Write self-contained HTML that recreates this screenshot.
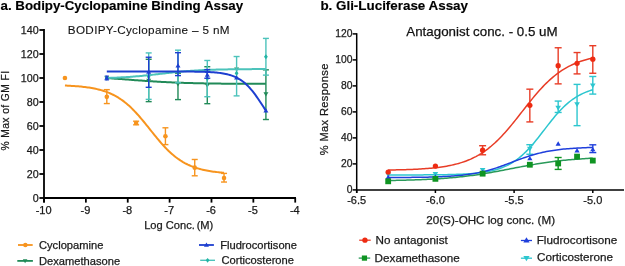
<!DOCTYPE html>
<html><head><meta charset="utf-8"><style>
html,body{margin:0;padding:0;background:#fff;overflow:hidden;}
svg{display:block;will-change:transform;}
text{font-family:"Liberation Sans", sans-serif;}
</style></head><body>
<svg width="625" height="266" viewBox="0 0 625 266">
<rect width="625" height="266" fill="#fff"/>
<text x="0.5" y="9.5" font-size="13.3" font-weight="bold" text-anchor="start" fill="#000" stroke="#000" stroke-width="0.15" >a. Bodipy-Cyclopamine Binding Assay</text>
<text x="67.8" y="33.6" font-size="11.7" font-weight="normal" text-anchor="start" fill="#111" stroke="#111" letter-spacing="0.34" stroke-width="0.1">BODIPY-Cyclopamine – 5 nM</text>
<line x1="148.68" y1="59.28" x2="148.68" y2="101.64" stroke="#218a58" stroke-width="1.4"/>
<line x1="145.68" y1="59.28" x2="151.68" y2="59.28" stroke="#218a58" stroke-width="1.4"/>
<line x1="145.68" y1="101.64" x2="151.68" y2="101.64" stroke="#218a58" stroke-width="1.4"/>
<line x1="177.98" y1="73.20" x2="177.98" y2="99.60" stroke="#218a58" stroke-width="1.4"/>
<line x1="174.98" y1="73.20" x2="180.98" y2="73.20" stroke="#218a58" stroke-width="1.4"/>
<line x1="174.98" y1="99.60" x2="180.98" y2="99.60" stroke="#218a58" stroke-width="1.4"/>
<line x1="207.29" y1="66.72" x2="207.29" y2="103.68" stroke="#218a58" stroke-width="1.4"/>
<line x1="204.29" y1="66.72" x2="210.29" y2="66.72" stroke="#218a58" stroke-width="1.4"/>
<line x1="204.29" y1="103.68" x2="210.29" y2="103.68" stroke="#218a58" stroke-width="1.4"/>
<line x1="265.91" y1="69.84" x2="265.91" y2="119.52" stroke="#218a58" stroke-width="1.4"/>
<line x1="262.91" y1="69.84" x2="268.91" y2="69.84" stroke="#218a58" stroke-width="1.4"/>
<line x1="262.91" y1="119.52" x2="268.91" y2="119.52" stroke="#218a58" stroke-width="1.4"/>
<path d="M106.80,78.07 L108.14,78.16 L109.48,78.25 L110.82,78.35 L112.15,78.44 L113.49,78.53 L114.83,78.63 L116.16,78.73 L117.50,78.82 L118.84,78.92 L120.18,79.02 L121.51,79.12 L122.85,79.22 L124.19,79.32 L125.52,79.42 L126.86,79.52 L128.20,79.62 L129.53,79.72 L130.87,79.82 L132.21,79.93 L133.55,80.03 L134.88,80.13 L136.22,80.22 L137.56,80.32 L138.89,80.42 L140.23,80.52 L141.57,80.61 L142.90,80.71 L144.24,80.80 L145.58,80.90 L146.92,80.99 L148.25,81.08 L149.59,81.17 L150.93,81.25 L152.26,81.34 L153.60,81.42 L154.94,81.51 L156.27,81.59 L157.61,81.67 L158.95,81.74 L160.29,81.82 L161.62,81.89 L162.96,81.96 L164.30,82.04 L165.63,82.10 L166.97,82.17 L168.31,82.23 L169.65,82.30 L170.98,82.36 L172.32,82.42 L173.66,82.48 L174.99,82.53 L176.33,82.59 L177.67,82.64 L179.00,82.69 L180.34,82.74 L181.68,82.79 L183.02,82.83 L184.35,82.88 L185.69,82.92 L187.03,82.96 L188.36,83.00 L189.70,83.04 L191.04,83.08 L192.37,83.11 L193.71,83.15 L195.05,83.18 L196.39,83.21 L197.72,83.24 L199.06,83.27 L200.40,83.30 L201.73,83.33 L203.07,83.35 L204.41,83.38 L205.74,83.40 L207.08,83.43 L208.42,83.45 L209.76,83.47 L211.09,83.49 L212.43,83.51 L213.77,83.53 L215.10,83.55 L216.44,83.56 L217.78,83.58 L219.12,83.60 L220.45,83.61 L221.79,83.63 L223.13,83.64 L224.46,83.65 L225.80,83.67 L227.14,83.68 L228.47,83.69 L229.81,83.70 L231.15,83.71 L232.49,83.72 L233.82,83.73 L235.16,83.74 L236.50,83.75 L237.83,83.76 L239.17,83.77 L240.51,83.78 L241.84,83.78 L243.18,83.79 L244.52,83.80 L245.86,83.80 L247.19,83.81 L248.53,83.82 L249.87,83.82 L251.20,83.83 L252.54,83.83 L253.88,83.84 L255.21,83.84 L256.55,83.85 L257.89,83.85 L259.23,83.86 L260.56,83.86 L261.90,83.86 L263.24,83.87 L264.57,83.87 L265.91,83.87" fill="none" stroke="#218a58" stroke-width="2.0" stroke-linejoin="round" stroke-linecap="butt"/>
<polygon points="106.80,80.55 104.30,76.30 109.30,76.30" fill="#218a58"/>
<polygon points="148.68,82.95 146.18,78.70 151.18,78.70" fill="#218a58"/>
<polygon points="177.98,86.55 175.48,82.30 180.48,82.30" fill="#218a58"/>
<polygon points="207.29,87.75 204.79,83.50 209.79,83.50" fill="#218a58"/>
<polygon points="236.60,71.79 234.10,67.54 239.10,67.54" fill="#218a58"/>
<polygon points="265.91,96.39 263.41,92.14 268.41,92.14" fill="#218a58"/>
<line x1="148.68" y1="52.92" x2="148.68" y2="99.36" stroke="#4cc3bb" stroke-width="1.4"/>
<line x1="145.68" y1="52.92" x2="151.68" y2="52.92" stroke="#4cc3bb" stroke-width="1.4"/>
<line x1="145.68" y1="99.36" x2="151.68" y2="99.36" stroke="#4cc3bb" stroke-width="1.4"/>
<line x1="177.98" y1="50.16" x2="177.98" y2="82.80" stroke="#4cc3bb" stroke-width="1.4"/>
<line x1="174.98" y1="50.16" x2="180.98" y2="50.16" stroke="#4cc3bb" stroke-width="1.4"/>
<line x1="174.98" y1="82.80" x2="180.98" y2="82.80" stroke="#4cc3bb" stroke-width="1.4"/>
<line x1="207.29" y1="60.48" x2="207.29" y2="96.72" stroke="#4cc3bb" stroke-width="1.4"/>
<line x1="204.29" y1="60.48" x2="210.29" y2="60.48" stroke="#4cc3bb" stroke-width="1.4"/>
<line x1="204.29" y1="96.72" x2="210.29" y2="96.72" stroke="#4cc3bb" stroke-width="1.4"/>
<line x1="236.60" y1="56.52" x2="236.60" y2="95.88" stroke="#4cc3bb" stroke-width="1.4"/>
<line x1="233.60" y1="56.52" x2="239.60" y2="56.52" stroke="#4cc3bb" stroke-width="1.4"/>
<line x1="233.60" y1="95.88" x2="239.60" y2="95.88" stroke="#4cc3bb" stroke-width="1.4"/>
<line x1="265.91" y1="38.40" x2="265.91" y2="75.12" stroke="#4cc3bb" stroke-width="1.4"/>
<line x1="262.91" y1="38.40" x2="268.91" y2="38.40" stroke="#4cc3bb" stroke-width="1.4"/>
<line x1="262.91" y1="75.12" x2="268.91" y2="75.12" stroke="#4cc3bb" stroke-width="1.4"/>
<path d="M106.80,77.99 L108.14,77.95 L109.48,77.90 L110.82,77.85 L112.15,77.80 L113.49,77.75 L114.83,77.70 L116.16,77.64 L117.50,77.58 L118.84,77.51 L120.18,77.45 L121.51,77.37 L122.85,77.30 L124.19,77.22 L125.52,77.14 L126.86,77.06 L128.20,76.97 L129.53,76.88 L130.87,76.78 L132.21,76.68 L133.55,76.58 L134.88,76.47 L136.22,76.36 L137.56,76.25 L138.89,76.13 L140.23,76.01 L141.57,75.88 L142.90,75.75 L144.24,75.62 L145.58,75.48 L146.92,75.35 L148.25,75.21 L149.59,75.06 L150.93,74.92 L152.26,74.77 L153.60,74.62 L154.94,74.47 L156.27,74.31 L157.61,74.16 L158.95,74.01 L160.29,73.85 L161.62,73.70 L162.96,73.54 L164.30,73.39 L165.63,73.24 L166.97,73.08 L168.31,72.93 L169.65,72.79 L170.98,72.64 L172.32,72.50 L173.66,72.35 L174.99,72.22 L176.33,72.08 L177.67,71.95 L179.00,71.82 L180.34,71.69 L181.68,71.57 L183.02,71.45 L184.35,71.34 L185.69,71.23 L187.03,71.12 L188.36,71.01 L189.70,70.91 L191.04,70.82 L192.37,70.73 L193.71,70.64 L195.05,70.55 L196.39,70.47 L197.72,70.39 L199.06,70.32 L200.40,70.25 L201.73,70.18 L203.07,70.12 L204.41,70.05 L205.74,70.00 L207.08,69.94 L208.42,69.89 L209.76,69.84 L211.09,69.79 L212.43,69.75 L213.77,69.70 L215.10,69.66 L216.44,69.62 L217.78,69.59 L219.12,69.55 L220.45,69.52 L221.79,69.49 L223.13,69.46 L224.46,69.44 L225.80,69.41 L227.14,69.39 L228.47,69.36 L229.81,69.34 L231.15,69.32 L232.49,69.30 L233.82,69.28 L235.16,69.27 L236.50,69.25 L237.83,69.24 L239.17,69.22 L240.51,69.21 L241.84,69.20 L243.18,69.18 L244.52,69.17 L245.86,69.16 L247.19,69.15 L248.53,69.14 L249.87,69.14 L251.20,69.13 L252.54,69.12 L253.88,69.11 L255.21,69.11 L256.55,69.10 L257.89,69.09 L259.23,69.09 L260.56,69.08 L261.90,69.08 L263.24,69.07 L264.57,69.07 L265.91,69.07" fill="none" stroke="#4cc3bb" stroke-width="2.0" stroke-linejoin="round" stroke-linecap="butt"/>
<polygon points="106.80,75.50 108.73,78.00 106.80,80.50 104.88,78.00" fill="#22b5a5"/>
<polygon points="148.68,74.30 150.60,76.80 148.68,79.30 146.75,76.80" fill="#22b5a5"/>
<polygon points="177.98,69.50 179.91,72.00 177.98,74.50 176.06,72.00" fill="#22b5a5"/>
<polygon points="207.29,76.10 209.22,78.60 207.29,81.10 205.37,78.60" fill="#22b5a5"/>
<polygon points="236.60,70.70 238.53,73.20 236.60,75.70 234.68,73.20" fill="#22b5a5"/>
<polygon points="265.91,54.26 267.83,56.76 265.91,59.26 263.99,56.76" fill="#22b5a5"/>
<line x1="148.68" y1="57.24" x2="148.68" y2="87.30" stroke="#1d3fd0" stroke-width="1.4"/>
<line x1="145.68" y1="57.24" x2="151.68" y2="57.24" stroke="#1d3fd0" stroke-width="1.4"/>
<line x1="145.68" y1="87.30" x2="151.68" y2="87.30" stroke="#1d3fd0" stroke-width="1.4"/>
<line x1="177.98" y1="52.68" x2="177.98" y2="75.60" stroke="#1d3fd0" stroke-width="1.4"/>
<line x1="174.98" y1="52.68" x2="180.98" y2="52.68" stroke="#1d3fd0" stroke-width="1.4"/>
<line x1="174.98" y1="75.60" x2="180.98" y2="75.60" stroke="#1d3fd0" stroke-width="1.4"/>
<line x1="207.29" y1="69.60" x2="207.29" y2="78.24" stroke="#1d3fd0" stroke-width="1.4"/>
<line x1="204.29" y1="69.60" x2="210.29" y2="69.60" stroke="#1d3fd0" stroke-width="1.4"/>
<line x1="204.29" y1="78.24" x2="210.29" y2="78.24" stroke="#1d3fd0" stroke-width="1.4"/>
<path d="M106.80,71.46 L108.14,71.46 L109.48,71.46 L110.82,71.46 L112.15,71.46 L113.49,71.46 L114.83,71.46 L116.16,71.46 L117.50,71.46 L118.84,71.46 L120.18,71.46 L121.51,71.46 L122.85,71.46 L124.19,71.46 L125.52,71.46 L126.86,71.46 L128.20,71.46 L129.53,71.46 L130.87,71.46 L132.21,71.46 L133.55,71.46 L134.88,71.46 L136.22,71.46 L137.56,71.46 L138.89,71.46 L140.23,71.46 L141.57,71.46 L142.90,71.46 L144.24,71.46 L145.58,71.46 L146.92,71.46 L148.25,71.46 L149.59,71.46 L150.93,71.46 L152.26,71.46 L153.60,71.46 L154.94,71.46 L156.27,71.46 L157.61,71.46 L158.95,71.46 L160.29,71.46 L161.62,71.46 L162.96,71.47 L164.30,71.47 L165.63,71.47 L166.97,71.47 L168.31,71.47 L169.65,71.47 L170.98,71.48 L172.32,71.48 L173.66,71.48 L174.99,71.48 L176.33,71.49 L177.67,71.49 L179.00,71.50 L180.34,71.50 L181.68,71.51 L183.02,71.52 L184.35,71.52 L185.69,71.53 L187.03,71.54 L188.36,71.55 L189.70,71.56 L191.04,71.58 L192.37,71.59 L193.71,71.61 L195.05,71.63 L196.39,71.65 L197.72,71.67 L199.06,71.70 L200.40,71.73 L201.73,71.77 L203.07,71.80 L204.41,71.85 L205.74,71.90 L207.08,71.95 L208.42,72.01 L209.76,72.08 L211.09,72.16 L212.43,72.25 L213.77,72.35 L215.10,72.46 L216.44,72.58 L217.78,72.72 L219.12,72.87 L220.45,73.04 L221.79,73.24 L223.13,73.46 L224.46,73.70 L225.80,73.97 L227.14,74.27 L228.47,74.61 L229.81,74.98 L231.15,75.40 L232.49,75.86 L233.82,76.37 L235.16,76.94 L236.50,77.56 L237.83,78.25 L239.17,79.01 L240.51,79.84 L241.84,80.75 L243.18,81.75 L244.52,82.82 L245.86,83.99 L247.19,85.25 L248.53,86.60 L249.87,88.04 L251.20,89.58 L252.54,91.20 L253.88,92.91 L255.21,94.70 L256.55,96.55 L257.89,98.47 L259.23,100.45 L260.56,102.46 L261.90,104.49 L263.24,106.54 L264.57,108.59 L265.91,110.62" fill="none" stroke="#1d3fd0" stroke-width="2.0" stroke-linejoin="round" stroke-linecap="butt"/>
<polygon points="106.80,75.45 104.30,79.70 109.30,79.70" fill="#1d3fd0"/>
<polygon points="148.68,69.45 146.18,73.70 151.18,73.70" fill="#1d3fd0"/>
<polygon points="177.98,63.33 175.48,67.58 180.48,67.58" fill="#1d3fd0"/>
<polygon points="207.29,72.57 204.79,76.82 209.79,76.82" fill="#1d3fd0"/>
<polygon points="236.60,75.21 234.10,79.46 239.10,79.46" fill="#1d3fd0"/>
<polygon points="265.91,108.33 263.41,112.58 268.41,112.58" fill="#1d3fd0"/>
<polygon points="104.50,75.60 109.10,75.60 104.50,80.40 109.10,80.40" fill="#1d3fd0"/>
<line x1="106.80" y1="89.64" x2="106.80" y2="103.56" stroke="#f7941e" stroke-width="1.4"/>
<line x1="103.80" y1="89.64" x2="109.80" y2="89.64" stroke="#f7941e" stroke-width="1.4"/>
<line x1="103.80" y1="103.56" x2="109.80" y2="103.56" stroke="#f7941e" stroke-width="1.4"/>
<line x1="136.11" y1="121.20" x2="136.11" y2="124.80" stroke="#f7941e" stroke-width="1.4"/>
<line x1="133.11" y1="121.20" x2="139.11" y2="121.20" stroke="#f7941e" stroke-width="1.4"/>
<line x1="133.11" y1="124.80" x2="139.11" y2="124.80" stroke="#f7941e" stroke-width="1.4"/>
<line x1="165.42" y1="127.80" x2="165.42" y2="144.60" stroke="#f7941e" stroke-width="1.4"/>
<line x1="162.42" y1="127.80" x2="168.42" y2="127.80" stroke="#f7941e" stroke-width="1.4"/>
<line x1="162.42" y1="144.60" x2="168.42" y2="144.60" stroke="#f7941e" stroke-width="1.4"/>
<line x1="194.73" y1="159.48" x2="194.73" y2="175.80" stroke="#f7941e" stroke-width="1.4"/>
<line x1="191.73" y1="159.48" x2="197.73" y2="159.48" stroke="#f7941e" stroke-width="1.4"/>
<line x1="191.73" y1="175.80" x2="197.73" y2="175.80" stroke="#f7941e" stroke-width="1.4"/>
<line x1="224.04" y1="173.40" x2="224.04" y2="182.04" stroke="#f7941e" stroke-width="1.4"/>
<line x1="221.04" y1="173.40" x2="227.04" y2="173.40" stroke="#f7941e" stroke-width="1.4"/>
<line x1="221.04" y1="182.04" x2="227.04" y2="182.04" stroke="#f7941e" stroke-width="1.4"/>
<path d="M64.94,85.55 L66.27,85.61 L67.61,85.67 L68.95,85.74 L70.28,85.81 L71.62,85.89 L72.96,85.97 L74.29,86.06 L75.63,86.15 L76.97,86.26 L78.31,86.37 L79.64,86.49 L80.98,86.61 L82.32,86.75 L83.65,86.90 L84.99,87.06 L86.33,87.23 L87.66,87.41 L89.00,87.61 L90.34,87.82 L91.68,88.04 L93.01,88.29 L94.35,88.55 L95.69,88.83 L97.02,89.12 L98.36,89.44 L99.70,89.79 L101.03,90.15 L102.37,90.54 L103.71,90.96 L105.05,91.40 L106.38,91.88 L107.72,92.38 L109.06,92.92 L110.39,93.49 L111.73,94.10 L113.07,94.74 L114.40,95.43 L115.74,96.15 L117.08,96.91 L118.42,97.72 L119.75,98.58 L121.09,99.47 L122.43,100.42 L123.76,101.41 L125.10,102.45 L126.44,103.54 L127.78,104.68 L129.11,105.87 L130.45,107.10 L131.79,108.38 L133.12,109.71 L134.46,111.08 L135.80,112.50 L137.13,113.95 L138.47,115.45 L139.81,116.98 L141.15,118.54 L142.48,120.14 L143.82,121.75 L145.16,123.39 L146.49,125.05 L147.83,126.72 L149.17,128.39 L150.50,130.07 L151.84,131.75 L153.18,133.42 L154.52,135.08 L155.85,136.72 L157.19,138.35 L158.53,139.95 L159.86,141.52 L161.20,143.06 L162.54,144.56 L163.87,146.03 L165.21,147.46 L166.55,148.84 L167.89,150.18 L169.22,151.48 L170.56,152.72 L171.90,153.92 L173.23,155.07 L174.57,156.17 L175.91,157.23 L177.25,158.23 L178.58,159.19 L179.92,160.10 L181.26,160.97 L182.59,161.79 L183.93,162.56 L185.27,163.30 L186.60,163.99 L187.94,164.65 L189.28,165.26 L190.62,165.85 L191.95,166.39 L193.29,166.91 L194.63,167.39 L195.96,167.84 L197.30,168.26 L198.64,168.66 L199.97,169.03 L201.31,169.38 L202.65,169.71 L203.99,170.01 L205.32,170.29 L206.66,170.56 L208.00,170.81 L209.33,171.04 L210.67,171.25 L212.01,171.45 L213.34,171.64 L214.68,171.81 L216.02,171.97 L217.36,172.12 L218.69,172.26 L220.03,172.39 L221.37,172.52 L222.70,172.63 L224.04,172.73" fill="none" stroke="#f7941e" stroke-width="2.0" stroke-linejoin="round" stroke-linecap="butt"/>
<circle cx="64.94" cy="78.00" r="2.30" fill="#f7941e"/>
<circle cx="106.80" cy="96.84" r="2.30" fill="#f7941e"/>
<circle cx="136.11" cy="123.00" r="2.30" fill="#f7941e"/>
<circle cx="165.42" cy="136.20" r="2.30" fill="#f7941e"/>
<circle cx="194.73" cy="167.64" r="2.30" fill="#f7941e"/>
<circle cx="224.04" cy="178.08" r="2.30" fill="#f7941e"/>
<g stroke="#000" stroke-width="1.8" fill="none">
<line x1="44" y1="29.1" x2="44" y2="202.6"/>
<line x1="43.1" y1="198" x2="296" y2="198"/>
<line x1="39.4" y1="198.00" x2="44" y2="198.00"/>
<line x1="39.4" y1="174.00" x2="44" y2="174.00"/>
<line x1="39.4" y1="150.00" x2="44" y2="150.00"/>
<line x1="39.4" y1="126.00" x2="44" y2="126.00"/>
<line x1="39.4" y1="102.00" x2="44" y2="102.00"/>
<line x1="39.4" y1="78.00" x2="44" y2="78.00"/>
<line x1="39.4" y1="54.00" x2="44" y2="54.00"/>
<line x1="39.4" y1="30.00" x2="44" y2="30.00"/>
<line x1="44.00" y1="198" x2="44.00" y2="202.6"/>
<line x1="85.87" y1="198" x2="85.87" y2="202.6"/>
<line x1="127.74" y1="198" x2="127.74" y2="202.6"/>
<line x1="169.61" y1="198" x2="169.61" y2="202.6"/>
<line x1="211.48" y1="198" x2="211.48" y2="202.6"/>
<line x1="253.35" y1="198" x2="253.35" y2="202.6"/>
<line x1="295.22" y1="198" x2="295.22" y2="202.6"/>
</g>
<text x="38.7" y="201.75" font-size="10.7" font-weight="normal" text-anchor="end" fill="#1a1a1a" stroke="#1a1a1a" stroke-width="0.25" >0</text>
<text x="38.7" y="177.75" font-size="10.7" font-weight="normal" text-anchor="end" fill="#1a1a1a" stroke="#1a1a1a" stroke-width="0.25" >20</text>
<text x="38.7" y="153.75" font-size="10.7" font-weight="normal" text-anchor="end" fill="#1a1a1a" stroke="#1a1a1a" stroke-width="0.25" >40</text>
<text x="38.7" y="129.75" font-size="10.7" font-weight="normal" text-anchor="end" fill="#1a1a1a" stroke="#1a1a1a" stroke-width="0.25" >60</text>
<text x="38.7" y="105.75" font-size="10.7" font-weight="normal" text-anchor="end" fill="#1a1a1a" stroke="#1a1a1a" stroke-width="0.25" >80</text>
<text x="38.7" y="81.75" font-size="10.7" font-weight="normal" text-anchor="end" fill="#1a1a1a" stroke="#1a1a1a" stroke-width="0.25" >100</text>
<text x="38.7" y="57.75" font-size="10.7" font-weight="normal" text-anchor="end" fill="#1a1a1a" stroke="#1a1a1a" stroke-width="0.25" >120</text>
<text x="38.7" y="33.75" font-size="10.7" font-weight="normal" text-anchor="end" fill="#1a1a1a" stroke="#1a1a1a" stroke-width="0.25" >140</text>
<text x="43.60" y="213.6" font-size="11" font-weight="normal" text-anchor="middle" fill="#1a1a1a" stroke="#1a1a1a" stroke-width="0.25" >-10</text>
<text x="85.47" y="213.6" font-size="11" font-weight="normal" text-anchor="middle" fill="#1a1a1a" stroke="#1a1a1a" stroke-width="0.25" >-9</text>
<text x="127.34" y="213.6" font-size="11" font-weight="normal" text-anchor="middle" fill="#1a1a1a" stroke="#1a1a1a" stroke-width="0.25" >-8</text>
<text x="169.21" y="213.6" font-size="11" font-weight="normal" text-anchor="middle" fill="#1a1a1a" stroke="#1a1a1a" stroke-width="0.25" >-7</text>
<text x="211.08" y="213.6" font-size="11" font-weight="normal" text-anchor="middle" fill="#1a1a1a" stroke="#1a1a1a" stroke-width="0.25" >-6</text>
<text x="252.95" y="213.6" font-size="11" font-weight="normal" text-anchor="middle" fill="#1a1a1a" stroke="#1a1a1a" stroke-width="0.25" >-5</text>
<text x="294.82" y="213.6" font-size="11" font-weight="normal" text-anchor="middle" fill="#1a1a1a" stroke="#1a1a1a" stroke-width="0.25" >-4</text>
<text x="144.2" y="228.6" font-size="11.1" font-weight="normal" text-anchor="start" fill="#1a1a1a" stroke="#1a1a1a" stroke-width="0.25" >Log Conc. <tspan dx="-1.2">(M)</tspan></text>
<text transform="translate(8.5,110.6) rotate(-90)" font-size="10.3" letter-spacing="0.4" text-anchor="middle" fill="#1a1a1a" stroke="#1a1a1a" stroke-width="0.25">% Max of GM FI</text>
<line x1="18.0" y1="245.0" x2="32.7" y2="245.0" stroke="#f7941e" stroke-width="1.8"/>
<circle cx="25.35" cy="245.00" r="2.25" fill="#f7941e"/>
<text x="39.0" y="248.7" font-size="11.15" font-weight="normal" text-anchor="start" fill="#1a1a1a" stroke="#1a1a1a" stroke-width="0.25" >Cyclopamine</text>
<line x1="17.3" y1="260.9" x2="32.9" y2="260.9" stroke="#218a58" stroke-width="1.8"/>
<polygon points="25.10,263.19 22.85,259.37 27.35,259.37" fill="#218a58"/>
<text x="39.0" y="264.8" font-size="11.15" font-weight="normal" text-anchor="start" fill="#1a1a1a" stroke="#1a1a1a" stroke-width="0.25" >Dexamethasone</text>
<line x1="199.0" y1="245.0" x2="213.9" y2="245.0" stroke="#1d3fd0" stroke-width="1.8"/>
<polygon points="206.45,242.45 203.95,246.70 208.95,246.70" fill="#1d3fd0"/>
<text x="220.2" y="248.5" font-size="11.15" font-weight="normal" text-anchor="start" fill="#1a1a1a" stroke="#1a1a1a" stroke-width="0.25" >Fludrocortisone</text>
<line x1="200.2" y1="260.3" x2="215.0" y2="260.3" stroke="#4cc3bb" stroke-width="1.4"/>
<polygon points="207.60,257.90 209.45,260.30 207.60,262.70 205.75,260.30" fill="#22b5a5"/>
<text x="221.5" y="264.1" font-size="11.15" font-weight="normal" text-anchor="start" fill="#1a1a1a" stroke="#1a1a1a" stroke-width="0.25" >Corticosterone</text>
<text x="320.4" y="9.5" font-size="13.4" font-weight="bold" text-anchor="start" fill="#000" stroke="#000" stroke-width="0.15" >b. Gli-Luciferase Assay</text>
<text x="406.3" y="36.4" font-size="13.35" font-weight="normal" text-anchor="start" fill="#111" stroke="#111" stroke-width="0.25" >Antagonist conc. - 0.5 uM</text>
<line x1="529.84" y1="144.69" x2="529.84" y2="154.26" stroke="#2cc6cf" stroke-width="1.4"/>
<line x1="526.34" y1="144.69" x2="533.34" y2="144.69" stroke="#2cc6cf" stroke-width="1.4"/>
<line x1="526.34" y1="154.26" x2="533.34" y2="154.26" stroke="#2cc6cf" stroke-width="1.4"/>
<line x1="558.17" y1="101.08" x2="558.17" y2="112.47" stroke="#2cc6cf" stroke-width="1.4"/>
<line x1="554.67" y1="101.08" x2="561.67" y2="101.08" stroke="#2cc6cf" stroke-width="1.4"/>
<line x1="554.67" y1="112.47" x2="561.67" y2="112.47" stroke="#2cc6cf" stroke-width="1.4"/>
<line x1="577.06" y1="84.39" x2="577.06" y2="125.66" stroke="#2cc6cf" stroke-width="1.4"/>
<line x1="573.56" y1="84.39" x2="580.56" y2="84.39" stroke="#2cc6cf" stroke-width="1.4"/>
<line x1="573.56" y1="125.66" x2="580.56" y2="125.66" stroke="#2cc6cf" stroke-width="1.4"/>
<line x1="592.80" y1="76.49" x2="592.80" y2="94.09" stroke="#2cc6cf" stroke-width="1.4"/>
<line x1="589.30" y1="76.49" x2="596.30" y2="76.49" stroke="#2cc6cf" stroke-width="1.4"/>
<line x1="589.30" y1="94.09" x2="596.30" y2="94.09" stroke="#2cc6cf" stroke-width="1.4"/>
<path d="M388.18,174.95 L389.90,174.94 L391.62,174.94 L393.34,174.94 L395.06,174.94 L396.78,174.94 L398.50,174.94 L400.22,174.93 L401.94,174.93 L403.66,174.93 L405.37,174.93 L407.09,174.92 L408.81,174.92 L410.53,174.92 L412.25,174.91 L413.97,174.91 L415.69,174.90 L417.41,174.90 L419.13,174.89 L420.85,174.88 L422.57,174.88 L424.29,174.87 L426.01,174.86 L427.73,174.85 L429.45,174.84 L431.17,174.82 L432.89,174.81 L434.61,174.79 L436.33,174.78 L438.05,174.76 L439.76,174.74 L441.48,174.71 L443.20,174.69 L444.92,174.66 L446.64,174.63 L448.36,174.60 L450.08,174.56 L451.80,174.52 L453.52,174.47 L455.24,174.42 L456.96,174.37 L458.68,174.31 L460.40,174.24 L462.12,174.17 L463.84,174.09 L465.56,174.00 L467.28,173.90 L469.00,173.79 L470.72,173.67 L472.44,173.54 L474.15,173.39 L475.87,173.23 L477.59,173.06 L479.31,172.86 L481.03,172.65 L482.75,172.42 L484.47,172.16 L486.19,171.88 L487.91,171.57 L489.63,171.24 L491.35,170.87 L493.07,170.46 L494.79,170.02 L496.51,169.54 L498.23,169.01 L499.95,168.44 L501.67,167.81 L503.39,167.13 L505.11,166.40 L506.83,165.60 L508.54,164.74 L510.26,163.80 L511.98,162.80 L513.70,161.72 L515.42,160.56 L517.14,159.32 L518.86,158.00 L520.58,156.60 L522.30,155.11 L524.02,153.53 L525.74,151.87 L527.46,150.13 L529.18,148.31 L530.90,146.41 L532.62,144.44 L534.34,142.41 L536.06,140.32 L537.78,138.19 L539.50,136.01 L541.22,133.80 L542.93,131.58 L544.65,129.34 L546.37,127.11 L548.09,124.89 L549.81,122.69 L551.53,120.53 L553.25,118.41 L554.97,116.34 L556.69,114.33 L558.41,112.39 L560.13,110.53 L561.85,108.73 L563.57,107.02 L565.29,105.40 L567.01,103.85 L568.73,102.40 L570.45,101.02 L572.17,99.73 L573.89,98.53 L575.61,97.40 L577.32,96.35 L579.04,95.37 L580.76,94.47 L582.48,93.63 L584.20,92.86 L585.92,92.14 L587.64,91.49 L589.36,90.88 L591.08,90.33 L592.80,89.82" fill="none" stroke="#2cc6cf" stroke-width="1.5" stroke-linejoin="round" stroke-linecap="butt"/>
<polygon points="388.18,177.17 385.38,172.41 390.98,172.41" fill="#2cc6cf"/>
<polygon points="435.40,176.79 432.60,172.03 438.20,172.03" fill="#2cc6cf"/>
<polygon points="482.62,172.78 479.82,168.02 485.42,168.02" fill="#2cc6cf"/>
<polygon points="529.84,151.55 527.04,146.79 532.64,146.79" fill="#2cc6cf"/>
<polygon points="558.17,110.40 555.37,105.64 560.97,105.64" fill="#2cc6cf"/>
<polygon points="577.06,106.91 574.26,102.15 579.86,102.15" fill="#2cc6cf"/>
<polygon points="592.80,88.15 590.00,83.39 595.60,83.39" fill="#2cc6cf"/>
<line x1="592.80" y1="144.82" x2="592.80" y2="152.58" stroke="#1f3fdc" stroke-width="1.4"/>
<line x1="589.30" y1="144.82" x2="596.30" y2="144.82" stroke="#1f3fdc" stroke-width="1.4"/>
<line x1="589.30" y1="152.58" x2="596.30" y2="152.58" stroke="#1f3fdc" stroke-width="1.4"/>
<path d="M388.18,177.52 L389.90,177.52 L391.62,177.51 L393.34,177.51 L395.06,177.50 L396.78,177.49 L398.50,177.48 L400.22,177.47 L401.94,177.46 L403.66,177.45 L405.37,177.44 L407.09,177.42 L408.81,177.41 L410.53,177.39 L412.25,177.37 L413.97,177.36 L415.69,177.33 L417.41,177.31 L419.13,177.29 L420.85,177.26 L422.57,177.23 L424.29,177.20 L426.01,177.17 L427.73,177.13 L429.45,177.09 L431.17,177.04 L432.89,177.00 L434.61,176.94 L436.33,176.89 L438.05,176.83 L439.76,176.76 L441.48,176.69 L443.20,176.61 L444.92,176.53 L446.64,176.44 L448.36,176.34 L450.08,176.23 L451.80,176.11 L453.52,175.99 L455.24,175.85 L456.96,175.71 L458.68,175.55 L460.40,175.38 L462.12,175.20 L463.84,175.01 L465.56,174.80 L467.28,174.57 L469.00,174.33 L470.72,174.08 L472.44,173.80 L474.15,173.51 L475.87,173.20 L477.59,172.87 L479.31,172.52 L481.03,172.14 L482.75,171.75 L484.47,171.34 L486.19,170.90 L487.91,170.44 L489.63,169.96 L491.35,169.46 L493.07,168.94 L494.79,168.40 L496.51,167.84 L498.23,167.27 L499.95,166.67 L501.67,166.07 L503.39,165.45 L505.11,164.81 L506.83,164.17 L508.54,163.53 L510.26,162.87 L511.98,162.22 L513.70,161.56 L515.42,160.91 L517.14,160.27 L518.86,159.63 L520.58,158.99 L522.30,158.38 L524.02,157.77 L525.74,157.18 L527.46,156.60 L529.18,156.05 L530.90,155.51 L532.62,154.99 L534.34,154.49 L536.06,154.02 L537.78,153.56 L539.50,153.13 L541.22,152.71 L542.93,152.32 L544.65,151.95 L546.37,151.60 L548.09,151.27 L549.81,150.96 L551.53,150.67 L553.25,150.40 L554.97,150.15 L556.69,149.91 L558.41,149.68 L560.13,149.48 L561.85,149.28 L563.57,149.10 L565.29,148.94 L567.01,148.78 L568.73,148.64 L570.45,148.50 L572.17,148.38 L573.89,148.26 L575.61,148.16 L577.32,148.06 L579.04,147.97 L580.76,147.89 L582.48,147.81 L584.20,147.74 L585.92,147.67 L587.64,147.61 L589.36,147.56 L591.08,147.50 L592.80,147.46" fill="none" stroke="#1f3fdc" stroke-width="1.5" stroke-linejoin="round" stroke-linecap="butt"/>
<polygon points="388.18,174.64 385.58,179.06 390.78,179.06" fill="#1f3fdc"/>
<polygon points="435.40,174.25 432.80,178.67 438.00,178.67" fill="#1f3fdc"/>
<polygon points="482.62,169.86 480.02,174.28 485.22,174.28" fill="#1f3fdc"/>
<polygon points="529.84,155.88 527.24,160.30 532.44,160.30" fill="#1f3fdc"/>
<polygon points="558.17,141.26 555.57,145.68 560.77,145.68" fill="#1f3fdc"/>
<polygon points="577.06,147.99 574.46,152.41 579.66,152.41" fill="#1f3fdc"/>
<polygon points="592.80,146.95 590.20,151.37 595.40,151.37" fill="#1f3fdc"/>
<line x1="558.17" y1="157.50" x2="558.17" y2="169.40" stroke="#0f9422" stroke-width="1.4"/>
<line x1="554.67" y1="157.50" x2="561.67" y2="157.50" stroke="#0f9422" stroke-width="1.4"/>
<line x1="554.67" y1="169.40" x2="561.67" y2="169.40" stroke="#0f9422" stroke-width="1.4"/>
<path d="M388.18,180.51 L389.90,180.48 L391.62,180.45 L393.34,180.42 L395.06,180.39 L396.78,180.36 L398.50,180.32 L400.22,180.28 L401.94,180.25 L403.66,180.20 L405.37,180.16 L407.09,180.12 L408.81,180.07 L410.53,180.02 L412.25,179.97 L413.97,179.91 L415.69,179.85 L417.41,179.79 L419.13,179.73 L420.85,179.66 L422.57,179.59 L424.29,179.51 L426.01,179.43 L427.73,179.35 L429.45,179.27 L431.17,179.18 L432.89,179.08 L434.61,178.99 L436.33,178.88 L438.05,178.77 L439.76,178.66 L441.48,178.54 L443.20,178.42 L444.92,178.29 L446.64,178.16 L448.36,178.02 L450.08,177.87 L451.80,177.72 L453.52,177.56 L455.24,177.40 L456.96,177.23 L458.68,177.05 L460.40,176.87 L462.12,176.68 L463.84,176.48 L465.56,176.28 L467.28,176.07 L469.00,175.85 L470.72,175.63 L472.44,175.39 L474.15,175.15 L475.87,174.91 L477.59,174.66 L479.31,174.40 L481.03,174.13 L482.75,173.86 L484.47,173.58 L486.19,173.30 L487.91,173.01 L489.63,172.71 L491.35,172.41 L493.07,172.10 L494.79,171.79 L496.51,171.48 L498.23,171.16 L499.95,170.84 L501.67,170.51 L503.39,170.18 L505.11,169.85 L506.83,169.52 L508.54,169.19 L510.26,168.86 L511.98,168.52 L513.70,168.19 L515.42,167.86 L517.14,167.53 L518.86,167.20 L520.58,166.87 L522.30,166.54 L524.02,166.22 L525.74,165.90 L527.46,165.59 L529.18,165.28 L530.90,164.98 L532.62,164.68 L534.34,164.38 L536.06,164.09 L537.78,163.81 L539.50,163.53 L541.22,163.26 L542.93,163.00 L544.65,162.74 L546.37,162.49 L548.09,162.24 L549.81,162.01 L551.53,161.78 L553.25,161.55 L554.97,161.34 L556.69,161.13 L558.41,160.92 L560.13,160.73 L561.85,160.54 L563.57,160.36 L565.29,160.18 L567.01,160.01 L568.73,159.85 L570.45,159.69 L572.17,159.54 L573.89,159.40 L575.61,159.26 L577.32,159.13 L579.04,159.00 L580.76,158.88 L582.48,158.76 L584.20,158.65 L585.92,158.54 L587.64,158.44 L589.36,158.34 L591.08,158.25 L592.80,158.16" fill="none" stroke="#2a9a5a" stroke-width="1.5" stroke-linejoin="round" stroke-linecap="butt"/>
<rect x="385.28" y="178.41" width="5.80" height="5.80" fill="#0f9422"/>
<rect x="432.50" y="175.95" width="5.80" height="5.80" fill="#0f9422"/>
<rect x="479.72" y="170.77" width="5.80" height="5.80" fill="#0f9422"/>
<rect x="526.94" y="161.84" width="5.80" height="5.80" fill="#0f9422"/>
<rect x="555.27" y="160.55" width="5.80" height="5.80" fill="#0f9422"/>
<rect x="574.16" y="153.69" width="5.80" height="5.80" fill="#0f9422"/>
<rect x="589.90" y="157.70" width="5.80" height="5.80" fill="#0f9422"/>
<line x1="482.62" y1="145.72" x2="482.62" y2="154.78" stroke="#e83c26" stroke-width="1.4"/>
<line x1="479.12" y1="145.72" x2="486.12" y2="145.72" stroke="#e83c26" stroke-width="1.4"/>
<line x1="479.12" y1="154.78" x2="486.12" y2="154.78" stroke="#e83c26" stroke-width="1.4"/>
<line x1="529.84" y1="89.17" x2="529.84" y2="121.91" stroke="#e83c26" stroke-width="1.4"/>
<line x1="526.34" y1="89.17" x2="533.34" y2="89.17" stroke="#e83c26" stroke-width="1.4"/>
<line x1="526.34" y1="121.91" x2="533.34" y2="121.91" stroke="#e83c26" stroke-width="1.4"/>
<line x1="558.17" y1="47.77" x2="558.17" y2="83.87" stroke="#e83c26" stroke-width="1.4"/>
<line x1="554.67" y1="47.77" x2="561.67" y2="47.77" stroke="#e83c26" stroke-width="1.4"/>
<line x1="554.67" y1="83.87" x2="561.67" y2="83.87" stroke="#e83c26" stroke-width="1.4"/>
<line x1="577.06" y1="52.55" x2="577.06" y2="73.90" stroke="#e83c26" stroke-width="1.4"/>
<line x1="573.56" y1="52.55" x2="580.56" y2="52.55" stroke="#e83c26" stroke-width="1.4"/>
<line x1="573.56" y1="73.90" x2="580.56" y2="73.90" stroke="#e83c26" stroke-width="1.4"/>
<line x1="592.80" y1="45.70" x2="592.80" y2="73.26" stroke="#e83c26" stroke-width="1.4"/>
<line x1="589.30" y1="45.70" x2="596.30" y2="45.70" stroke="#e83c26" stroke-width="1.4"/>
<line x1="589.30" y1="73.26" x2="596.30" y2="73.26" stroke="#e83c26" stroke-width="1.4"/>
<path d="M388.18,170.01 L389.90,169.99 L391.62,169.96 L393.34,169.93 L395.06,169.90 L396.78,169.86 L398.50,169.82 L400.22,169.78 L401.94,169.74 L403.66,169.69 L405.37,169.64 L407.09,169.58 L408.81,169.52 L410.53,169.46 L412.25,169.39 L413.97,169.31 L415.69,169.23 L417.41,169.15 L419.13,169.05 L420.85,168.95 L422.57,168.85 L424.29,168.73 L426.01,168.61 L427.73,168.47 L429.45,168.33 L431.17,168.17 L432.89,168.01 L434.61,167.83 L436.33,167.64 L438.05,167.43 L439.76,167.21 L441.48,166.97 L443.20,166.71 L444.92,166.44 L446.64,166.15 L448.36,165.83 L450.08,165.49 L451.80,165.13 L453.52,164.74 L455.24,164.33 L456.96,163.88 L458.68,163.41 L460.40,162.90 L462.12,162.36 L463.84,161.79 L465.56,161.17 L467.28,160.51 L469.00,159.82 L470.72,159.08 L472.44,158.29 L474.15,157.45 L475.87,156.56 L477.59,155.62 L479.31,154.63 L481.03,153.58 L482.75,152.47 L484.47,151.30 L486.19,150.08 L487.91,148.79 L489.63,147.43 L491.35,146.02 L493.07,144.54 L494.79,143.00 L496.51,141.39 L498.23,139.72 L499.95,137.99 L501.67,136.21 L503.39,134.36 L505.11,132.46 L506.83,130.51 L508.54,128.51 L510.26,126.47 L511.98,124.39 L513.70,122.27 L515.42,120.13 L517.14,117.96 L518.86,115.77 L520.58,113.58 L522.30,111.37 L524.02,109.17 L525.74,106.97 L527.46,104.79 L529.18,102.63 L530.90,100.49 L532.62,98.38 L534.34,96.31 L536.06,94.27 L537.78,92.28 L539.50,90.34 L541.22,88.45 L542.93,86.62 L544.65,84.84 L546.37,83.13 L548.09,81.47 L549.81,79.88 L551.53,78.35 L553.25,76.88 L554.97,75.48 L556.69,74.14 L558.41,72.86 L560.13,71.65 L561.85,70.49 L563.57,69.39 L565.29,68.36 L567.01,67.37 L568.73,66.44 L570.45,65.57 L572.17,64.74 L573.89,63.96 L575.61,63.23 L577.32,62.54 L579.04,61.89 L580.76,61.28 L582.48,60.72 L584.20,60.18 L585.92,59.68 L587.64,59.21 L589.36,58.78 L591.08,58.37 L592.80,57.98" fill="none" stroke="#e83c26" stroke-width="1.5" stroke-linejoin="round" stroke-linecap="butt"/>
<circle cx="388.18" cy="172.12" r="2.65" fill="#ee2b12"/>
<circle cx="435.40" cy="166.04" r="2.65" fill="#ee2b12"/>
<circle cx="482.62" cy="150.25" r="2.65" fill="#ee2b12"/>
<circle cx="529.84" cy="105.35" r="2.65" fill="#ee2b12"/>
<circle cx="558.17" cy="65.75" r="2.65" fill="#ee2b12"/>
<circle cx="577.06" cy="63.29" r="2.65" fill="#ee2b12"/>
<circle cx="592.80" cy="59.15" r="2.65" fill="#ee2b12"/>
<g stroke="#000" stroke-width="1.5" fill="none">
<line x1="356.7" y1="33.2" x2="356.7" y2="193.0"/>
<line x1="356" y1="189.9" x2="624" y2="189.9"/>
<line x1="352.6" y1="189.90" x2="356.7" y2="189.90"/>
<line x1="352.6" y1="163.90" x2="356.7" y2="163.90"/>
<line x1="352.6" y1="137.90" x2="356.7" y2="137.90"/>
<line x1="352.6" y1="111.90" x2="356.7" y2="111.90"/>
<line x1="352.6" y1="85.90" x2="356.7" y2="85.90"/>
<line x1="352.6" y1="59.90" x2="356.7" y2="59.90"/>
<line x1="352.6" y1="33.90" x2="356.7" y2="33.90"/>
<line x1="356.70" y1="189.9" x2="356.70" y2="193.0"/>
<line x1="435.40" y1="189.9" x2="435.40" y2="193.0"/>
<line x1="514.10" y1="189.9" x2="514.10" y2="193.0"/>
<line x1="592.80" y1="189.9" x2="592.80" y2="193.0"/>
</g>
<text x="352.4" y="193.30" font-size="10.3" font-weight="normal" text-anchor="end" fill="#1a1a1a" stroke="#1a1a1a" stroke-width="0.25" >0</text>
<text x="352.4" y="167.30" font-size="10.3" font-weight="normal" text-anchor="end" fill="#1a1a1a" stroke="#1a1a1a" stroke-width="0.25" >20</text>
<text x="352.4" y="141.30" font-size="10.3" font-weight="normal" text-anchor="end" fill="#1a1a1a" stroke="#1a1a1a" stroke-width="0.25" >40</text>
<text x="352.4" y="115.30" font-size="10.3" font-weight="normal" text-anchor="end" fill="#1a1a1a" stroke="#1a1a1a" stroke-width="0.25" >60</text>
<text x="352.4" y="89.30" font-size="10.3" font-weight="normal" text-anchor="end" fill="#1a1a1a" stroke="#1a1a1a" stroke-width="0.25" >80</text>
<text x="352.4" y="63.30" font-size="10.3" font-weight="normal" text-anchor="end" fill="#1a1a1a" stroke="#1a1a1a" stroke-width="0.25" >100</text>
<text x="352.4" y="37.30" font-size="10.3" font-weight="normal" text-anchor="end" fill="#1a1a1a" stroke="#1a1a1a" stroke-width="0.25" >120</text>
<text x="356.70" y="204.2" font-size="11" font-weight="normal" text-anchor="middle" fill="#1a1a1a" stroke="#1a1a1a" stroke-width="0.25" >-6.5</text>
<text x="435.40" y="204.2" font-size="11" font-weight="normal" text-anchor="middle" fill="#1a1a1a" stroke="#1a1a1a" stroke-width="0.25" >-6.0</text>
<text x="514.10" y="204.2" font-size="11" font-weight="normal" text-anchor="middle" fill="#1a1a1a" stroke="#1a1a1a" stroke-width="0.25" >-5.5</text>
<text x="592.80" y="204.2" font-size="11" font-weight="normal" text-anchor="middle" fill="#1a1a1a" stroke="#1a1a1a" stroke-width="0.25" >-5.0</text>
<text x="426.3" y="224.0" font-size="11.65" font-weight="normal" text-anchor="start" fill="#1a1a1a" stroke="#1a1a1a" stroke-width="0.25" >20(S)-OHC log conc. (M)</text>
<text transform="translate(327.6,109.2) rotate(-90)" font-size="11.1" letter-spacing="0.36" text-anchor="middle" fill="#1a1a1a" stroke="#1a1a1a" stroke-width="0.25">% Max Response</text>
<line x1="359.2" y1="240.2" x2="370.7" y2="240.2" stroke="#e83c26" stroke-width="1.3"/>
<circle cx="364.95" cy="240.20" r="2.65" fill="#ee2b12"/>
<text x="375.6" y="243.7" font-size="11.7" font-weight="normal" text-anchor="start" fill="#1a1a1a" stroke="#1a1a1a" stroke-width="0.25" >No antagonist</text>
<line x1="358.7" y1="258.1" x2="370.2" y2="258.1" stroke="#2a9a5a" stroke-width="1.3"/>
<rect x="361.85" y="255.50" width="5.20" height="5.20" fill="#0f9422"/>
<text x="374.6" y="262.0" font-size="11.7" font-weight="normal" text-anchor="start" fill="#1a1a1a" stroke="#1a1a1a" stroke-width="0.25" >Dexamethasone</text>
<line x1="520.9" y1="240.5" x2="532.0" y2="240.5" stroke="#1f3fdc" stroke-width="1.3"/>
<polygon points="526.45,237.34 523.35,242.61 529.55,242.61" fill="#1f3fdc"/>
<text x="536.7" y="243.5" font-size="11.7" font-weight="normal" text-anchor="start" fill="#1a1a1a" stroke="#1a1a1a" stroke-width="0.25" >Fludrocortisone</text>
<line x1="520.9" y1="258.2" x2="532.0" y2="258.2" stroke="#2cc6cf" stroke-width="1.3"/>
<polygon points="526.45,261.36 523.35,256.09 529.55,256.09" fill="#2cc6cf"/>
<text x="537.0" y="261.3" font-size="11.7" font-weight="normal" text-anchor="start" fill="#1a1a1a" stroke="#1a1a1a" stroke-width="0.25" >Corticosterone</text>
</svg>
</body></html>
